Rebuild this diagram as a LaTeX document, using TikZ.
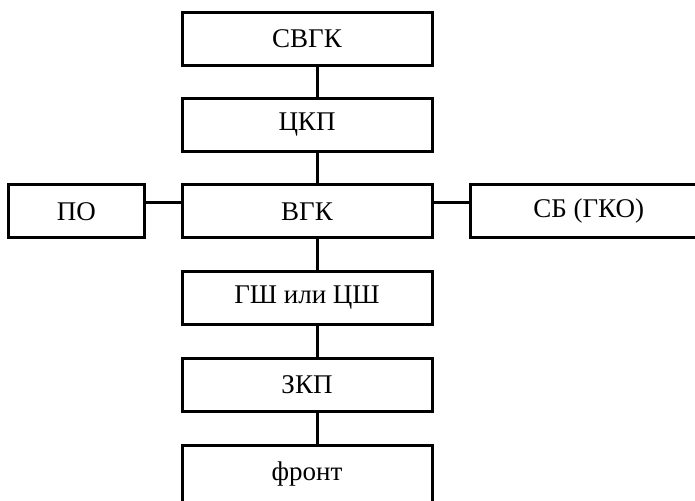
\documentclass[tikz,border=0pt]{standalone}
\usepackage{fontspec}
\setmainfont{Liberation Serif}

\begin{document}
\begin{tikzpicture}[x=0.5pt,y=-0.5pt]
    % --- STYLES ---
    \tikzset{
        levelBox/.style={rectangle, draw=black, line width=1.5pt, minimum width=125pt, minimum height=26.5pt, inner sep=0pt, font=\fontsize{13.5}{16}\selectfont},
        sideBox/.style={levelBox, minimum width=68pt},
        linkLine/.style={draw=black, line width=1.5pt}
    }

    % page frame (boxes at the edges are cut off)
    \useasboundingbox (0,0) rectangle (695,500);
    \clip (0,0) rectangle (695,500);

    % --- NODES ---

    % central column
    \node[levelBox] (svgk) at (307,38.5) {СВГК};
    \node[levelBox] (ckp) at (307,124.7) {ЦКП};
    \node[levelBox] (vgk) at (307,211.3) {ВГК};
    \node[levelBox] (gsh) at (307,297.5) {ГШ или ЦШ};
    \node[levelBox] (zkp) at (307,384.7) {ЗКП};
    \node[levelBox, minimum height=29pt] (front) at (307,474) {фронт};

    % left and right of ВГК
    \node[sideBox] (po) at (76.3,211.3) {ПО};
    \node[levelBox, minimum width=118pt] (sb) at (588.7,211.3) {СБ (ГКО)};

    % helper points for the links
    \coordinate (spine) at (317,0);
    \coordinate (row) at (0,202);

    % --- LINKS ---
    \draw[linkLine] (svgk.south -| spine) -- (ckp.north -| spine);
    \draw[linkLine] (ckp.south -| spine) -- (vgk.north -| spine);
    \draw[linkLine] (vgk.south -| spine) -- (gsh.north -| spine);
    \draw[linkLine] (gsh.south -| spine) -- (zkp.north -| spine);
    \draw[linkLine] (zkp.south -| spine) -- (front.north -| spine);

    \draw[linkLine] (po.east |- row) -- (vgk.west |- row);
    \draw[linkLine] (vgk.east |- row) -- (sb.west |- row);

\end{tikzpicture}
\end{document}
